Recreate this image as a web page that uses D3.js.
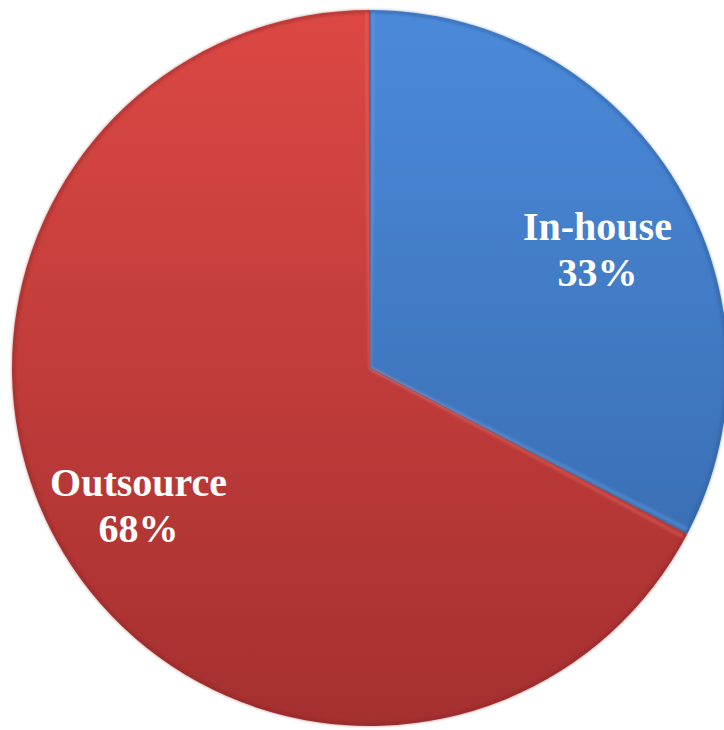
<!DOCTYPE html>
<html>
<head>
<meta charset="utf-8">
<script src="https://cdn.jsdelivr.net/npm/d3@7"></script>
<style>
  html, body { margin: 0; padding: 0; background: #ffffff; }
  svg { display: block; }
</style>
</head>
<body>
<svg id="chart" width="724" height="730"></svg>
<script>
// Sourcing split
const categories = ["In-house", "Outsource"];
const values = [33, 68];
const labels = ["33%", "68%"];

const width = 724, height = 730;
const cx = 370, cy = 368, radius = 358;

const svg = d3.select("#chart");
const defs = svg.append("defs");

// Vertical shading for each slice (in the pie group's local space)
const palettes = [
  { id: "gradBlue", top: "#4b8ada", bottom: "#3566a8", edge: "#2d5a96", hi: "#6aa2e6" },
  { id: "gradRed", top: "#dc4844", bottom: "#a53030", edge: "#8e2828", hi: "#e8706a" }
];
palettes.forEach(p => {
  const grad = defs.append("linearGradient")
    .attr("id", p.id)
    .attr("gradientUnits", "userSpaceOnUse")
    .attr("x1", 0).attr("y1", -radius)
    .attr("x2", 0).attr("y2", radius);
  grad.append("stop").attr("offset", "0%").attr("stop-color", p.top);
  grad.append("stop").attr("offset", "100%").attr("stop-color", p.bottom);
});

// Soft blur for the bevel highlights
const blur = defs.append("filter").attr("id", "soft")
  .attr("x", "-10%").attr("y", "-10%").attr("width", "120%").attr("height", "120%");
blur.append("feGaussianBlur").attr("stdDeviation", 1.6);

const pie = d3.pie().sort(null).value(d => d);
const arcs = pie(values);

const arc = d3.arc().innerRadius(0).outerRadius(radius);
const rimArc = d3.arc().innerRadius(radius - 3).outerRadius(radius);

const g = svg.append("g").attr("transform", `translate(${cx},${cy})`);

// Slices
g.selectAll("path.slice")
  .data(arcs)
  .join("path")
  .attr("class", "slice")
  .attr("d", arc)
  .attr("fill", (d, i) => `url(#${palettes[i].id})`);

// Darker rim along the outer edge
g.selectAll("path.rim")
  .data(arcs)
  .join("path")
  .attr("class", "rim")
  .attr("d", rimArc)
  .attr("fill", (d, i) => palettes[i].edge)
  .attr("opacity", 0.55)
  .attr("filter", "url(#soft)");

// Light bevel lines along the slice boundaries
const clip = defs.append("clipPath").attr("id", "pieClip");
clip.append("circle").attr("r", radius - 2);

const bevel = g.append("g").attr("clip-path", "url(#pieClip)");
arcs.forEach((d, i) => {
  [d.startAngle, d.endAngle].forEach((a, k) => {
    // nudge the highlight slightly inside its own slice
    const aa = a + (k === 0 ? 0.012 : -0.012);
    bevel.append("line")
      .attr("x1", 0).attr("y1", 0)
      .attr("x2", Math.sin(aa) * radius)
      .attr("y2", -Math.cos(aa) * radius)
      .attr("stroke", palettes[i].hi)
      .attr("stroke-width", 3)
      .attr("opacity", 0.5)
      .attr("filter", "url(#soft)");
  });
});

// Thin dark seam between slices
arcs.forEach(d => {
  bevel.append("line")
    .attr("x1", 0).attr("y1", 0)
    .attr("x2", Math.sin(d.startAngle) * radius)
    .attr("y2", -Math.cos(d.startAngle) * radius)
    .attr("stroke", "#5a2a2a")
    .attr("stroke-width", 1)
    .attr("opacity", 0.45);
});

// Slice labels
const labelArc = d3.arc().innerRadius(260).outerRadius(260);
const nudges = [[5, 29], [-9, 15]];
const lbl = g.selectAll("g.label")
  .data(arcs)
  .join("g")
  .attr("class", "label")
  .attr("transform", (d, i) => {
    const [x, y] = labelArc.centroid(d);
    return `translate(${x + nudges[i][0]},${y + nudges[i][1]})`;
  });

const fontFamily = "'Liberation Serif', 'Times New Roman', serif";

lbl.append("text")
  .attr("text-anchor", "middle")
  .attr("y", -22)
  .attr("fill", "#ffffff")
  .attr("font-family", fontFamily)
  .attr("font-weight", "bold")
  .attr("font-size", 40)
  .text((d, i) => categories[i]);

lbl.append("text")
  .attr("text-anchor", "middle")
  .attr("y", 24)
  .attr("fill", "#ffffff")
  .attr("font-family", fontFamily)
  .attr("font-weight", "bold")
  .attr("font-size", 40)
  .text((d, i) => labels[i]);
</script>
</body>
</html>
